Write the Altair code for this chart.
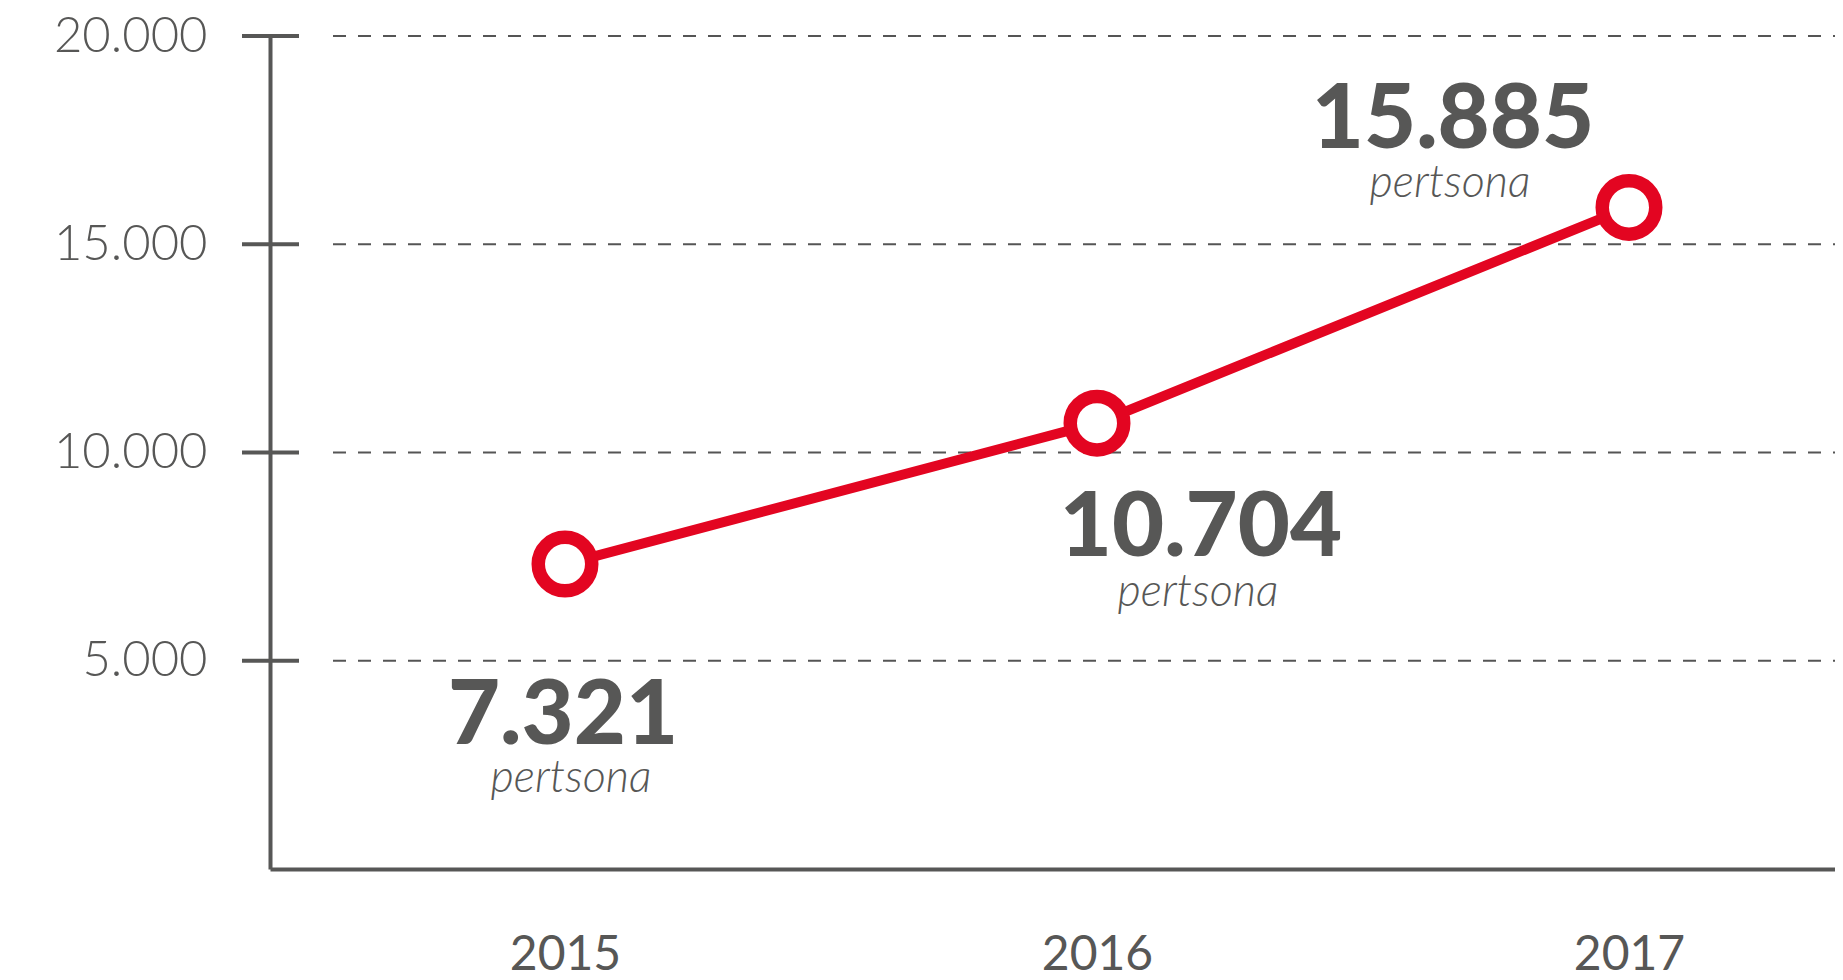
import altair as alt
import pandas as pd

# ---- data ----
years = [2015, 2016, 2017]
values = [7321, 10704, 15885]
value_labels = ["7.321", "10.704", "15.885"]
unit_labels = ["pertsona", "pertsona", "pertsona"]
y_ticks = [5000, 10000, 15000, 20000]
x_ticks = [2015, 2016, 2017]

# ---- style ----
RED = "#E30521"
GREY = "#575756"
FONT = "Lato"
W, H = 1565, 833
STEP = 532.0
X0 = 2015 - 295.0 / STEP
x_domain = [X0, X0 + W / STEP]

# label offsets (pixels) relative to each point
VAL_DX = [-2, 104, -176]
VAL_DY = [180, 133, -59]
UNIT_DX = [6, 101, -179]
UNIT_DY = [228, 183, -10]

df = pd.DataFrame({"year": years, "value": values, "label": value_labels, "unit": unit_labels})
grid_df = pd.DataFrame({"value": y_ticks})

x_enc = alt.X(
    "year:Q",
    scale=alt.Scale(domain=x_domain, nice=False, zero=False),
    axis=alt.Axis(
        values=x_ticks, format="d", ticks=False, grid=False,
        domainColor=GREY, domainWidth=4,
        labelFont=FONT, labelFontSize=48, labelColor=GREY,
        labelPadding=62, labelBaseline="top", title=None,
    ),
)
y_enc = alt.Y(
    "value:Q",
    scale=alt.Scale(domain=[0, 20000], nice=False),
    axis=alt.Axis(
        values=y_ticks,
        labelExpr="replace(format(datum.value, ',d'), ',', '.')",
        ticks=False, grid=False,
        domainColor=GREY, domainWidth=4,
        labelFont=FONT, labelFontWeight=300, labelFontSize=49, labelColor=GREY,
        labelPadding=63, title=None,
    ),
)

grid = alt.Chart(grid_df).mark_rule(
    strokeDash=[13, 12], strokeWidth=2, color="#555555"
).encode(y=y_enc, x=alt.value(63), x2=alt.value(W))

ticks = alt.Chart(grid_df).mark_rule(strokeWidth=4, color=GREY).encode(
    y=y_enc, x=alt.value(-28), x2=alt.value(29)
)

line = alt.Chart(df).mark_line(color=RED, strokeWidth=10).encode(x=x_enc, y=y_enc)

points = alt.Chart(df).mark_point(
    shape="circle", filled=True, fill="white", stroke=RED,
    strokeWidth=13.5, size=2862, opacity=1,
).encode(x=x_enc, y=y_enc)

layers = [grid, ticks, line, points]
for i in range(len(years)):
    sub = df.iloc[[i]]
    layers.append(
        alt.Chart(sub).mark_text(
            font=FONT, fontSize=90, fontWeight=900, color=GREY,
            align="center", baseline="alphabetic", dx=VAL_DX[i], dy=VAL_DY[i],
        ).encode(x=x_enc, y=y_enc, text="label:N")
    )
    layers.append(
        alt.Chart(sub).mark_text(
            font=FONT, fontSize=45, fontWeight=300, fontStyle="italic", color=GREY,
            align="center", baseline="alphabetic", dx=UNIT_DX[i], dy=UNIT_DY[i],
        ).encode(x=x_enc, y=y_enc, text="unit:N")
    )

chart = alt.layer(*layers).properties(
    width=W, height=H,
    autosize=alt.AutoSizeParams(type="none"),
    padding={"left": 262, "top": 28, "right": 0, "bottom": 110},
    background="white",
).configure_view(stroke=None)

chart.save("out.html", embed_options={"renderer": "svg", "actions": False})
